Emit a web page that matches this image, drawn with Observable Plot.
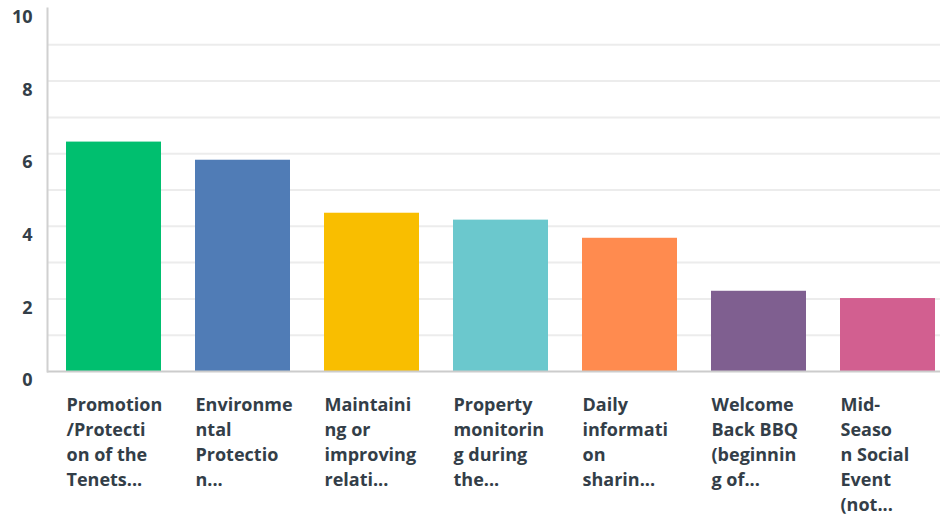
<!DOCTYPE html>
<html>
<head>
<meta charset="utf-8">
<script src="https://cdn.jsdelivr.net/npm/d3@7"></script>
<script src="https://cdn.jsdelivr.net/npm/@observablehq/plot@0.6"></script>
<style>
  html, body { margin: 0; padding: 0; background: #fff; }
  #chart svg { display: block; }
</style>
</head>
<body>
<div id="chart"></div>
<script>
const categories = [
  "Promotion/Protection of the Tenets",
  "Environmental Protection",
  "Maintaining or improving relations",
  "Property monitoring during the",
  "Daily information sharing",
  "Welcome Back BBQ (beginning of",
  "Mid-Season Social Event (not"
];
const labels = [
  "Promotion\n/Protecti\non of the\nTenets...",
  "Environme\nntal\nProtectio\nn...",
  "Maintaini\nng or\nimproving\nrelati...",
  "Property\nmonitorin\ng during\nthe...",
  "Daily\ninformati\non\nsharin...",
  "Welcome\nBack BBQ\n(beginnin\ng of...",
  "Mid-\nSeaso\nn Social\nEvent\n(not..."
];
const values = [6.32, 5.82, 4.36, 4.17, 3.67, 2.21, 2.01];
const colors = ["#00bf6f", "#507cb6", "#f9be00", "#6bc8cd", "#ff8b4f", "#7f5f90", "#d25f90"];
const yTicks = [0, 2, 4, 6, 8, 10];
const gridValues = [1, 2, 3, 4, 5, 6, 7, 8, 9];

const data = categories.map((c, i) => ({cat: c, label: labels[i], value: values[i], color: colors[i]}));

const textColor = "#333e48";
const font = "'Open Sans', sans-serif";

const chart = Plot.plot({
  width: 940,
  height: 514,
  marginLeft: 47,
  marginRight: 0,
  marginTop: 8,
  marginBottom: 143,
  style: {fontFamily: font, background: "#fff", overflow: "visible"},
  x: {domain: categories, range: [66, 935], paddingInner: 0.264, paddingOuter: 0, axis: null},
  y: {domain: [0, 10], axis: null},
  marks: [
    Plot.ruleY(gridValues, {stroke: "#ececec", strokeWidth: 2}),
    Plot.barY(data, {x: "cat", y: "value", fill: "color"}),
    Plot.ruleY([0], {stroke: "#cccccc", strokeWidth: 2}),
    Plot.frame({anchor: "left", stroke: "#d0d0d0", strokeWidth: 2}),
    Plot.axisY({
      ticks: yTicks,
      tickSize: 0,
      tickPadding: 15,
      dy: 9,
      label: null,
      fontSize: 18,
      fontWeight: 700,
      fill: textColor,
      tickFormat: d => String(d)
    }),
    Plot.text(data, {
      x: "cat",
      y: () => 0,
      text: "label",
      textAnchor: "start",
      lineAnchor: "top",
      lineHeight: 1.39,
      dx: -47.5,
      dy: 22,
      fontSize: 18,
      fontWeight: 700,
      fill: textColor
    })
  ]
});

document.getElementById("chart").appendChild(chart);
</script>
</body>
</html>
